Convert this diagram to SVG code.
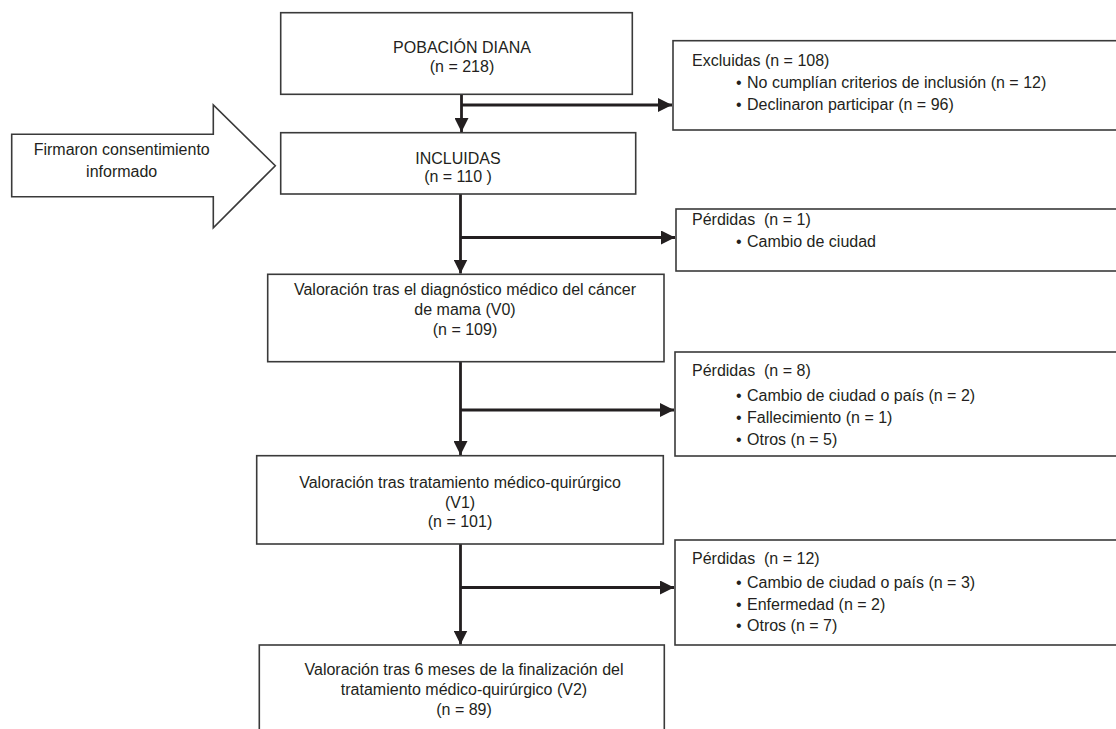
<svg xmlns="http://www.w3.org/2000/svg" width="1116" height="729" viewBox="0 0 1116 729">
<style>
text{font-family:"Liberation Sans",Arial,sans-serif;font-size:16px;fill:#231f20;white-space:pre}
.c{text-anchor:middle}
.box{fill:#fff;stroke:#3a3a3a;stroke-width:1.6}
.ln{fill:none;stroke:#231f20;stroke-width:2.8}
</style>
<defs>
<marker id="ah" viewBox="0 0 14 14" refX="14" refY="7" markerWidth="14" markerHeight="14" markerUnits="userSpaceOnUse" orient="auto">
<path d="M0,0 L14,7 L0,14 Z" fill="#231f20"/>
</marker>
</defs>
<rect width="1116" height="729" fill="#fff"/>
<g id="connectors">
<path class="ln" d="M461.5,94 V132" marker-end="url(#ah)"/>
<path class="ln" d="M461.5,105 H672" marker-end="url(#ah)"/>
<path class="ln" d="M460.5,194 V273.5" marker-end="url(#ah)"/>
<path class="ln" d="M460.5,237.5 H675" marker-end="url(#ah)"/>
<path class="ln" d="M460.5,362 V455" marker-end="url(#ah)"/>
<path class="ln" d="M460.5,410 H674" marker-end="url(#ah)"/>
<path class="ln" d="M460.5,544 V644.5" marker-end="url(#ah)"/>
<path class="ln" d="M460.5,587.5 H674" marker-end="url(#ah)"/>
</g>
<g id="consent">
<polygon class="box" points="11.7,134.3 213.3,134.3 213.3,105 275.3,165.7 213.3,227.7 213.3,196.7 11.7,196.7"/>
<text class="c" x="121.7" y="155">Firmaron consentimiento</text>
<text class="c" x="121.7" y="177">informado</text>
</g>
<g id="poblacion">
<rect class="box" x="280.7" y="12.7" width="351.6" height="81.6"/>
<text class="c" x="462" y="53">POBACIÓN DIANA</text>
<text class="c" x="462" y="72">(n = 218)</text>
</g>
<g id="incluidas">
<rect class="box" x="280.7" y="132.7" width="355" height="61.3"/>
<text class="c" x="458" y="164">INCLUIDAS</text>
<text class="c" x="458" y="182">(n = 110 )</text>
</g>
<g id="v0">
<rect class="box" x="267.7" y="274.3" width="396.3" height="87.4"/>
<text class="c" x="465" y="294.5">Valoración tras el diagnóstico médico del cáncer</text>
<text class="c" x="465" y="314.5">de mama (V0)</text>
<text class="c" x="465" y="334.5">(n = 109)</text>
</g>
<g id="v1">
<rect class="box" x="256.7" y="455.7" width="406.6" height="88.3"/>
<text class="c" x="460" y="488">Valoración tras tratamiento médico-quirúrgico</text>
<text class="c" x="460" y="507.5">(V1)</text>
<text class="c" x="460" y="527">(n = 101)</text>
</g>
<g id="v2">
<rect class="box" x="259.3" y="645" width="405" height="100"/>
<text class="c" x="464" y="674.5">Valoración tras 6 meses de la finalización del</text>
<text class="c" x="464" y="695">tratamiento médico-quirúrgico (V2)</text>
<text class="c" x="464" y="714.5">(n = 89)</text>
</g>
<g id="excluidas">
<rect class="box" x="673" y="40.7" width="450" height="89.3"/>
<text x="692" y="66">Excluidas (n = 108)</text>
<text x="736" y="88">•</text><text x="747" y="88">No cumplían criterios de inclusión (n = 12)</text>
<text x="736" y="110">•</text><text x="747" y="110">Declinaron participar (n = 96)</text>
</g>
<g id="perdidas1">
<rect class="box" x="676" y="209" width="450" height="62"/>
<text x="692" y="225">Pérdidas  (n = 1)</text>
<text x="736" y="247">•</text><text x="747" y="247">Cambio de ciudad</text>
</g>
<g id="perdidas8">
<rect class="box" x="675" y="352" width="450" height="104"/>
<text x="692" y="376">Pérdidas  (n = 8)</text>
<text x="736" y="400.5">•</text><text x="747" y="400.5">Cambio de ciudad o país (n = 2)</text>
<text x="736" y="422.5">•</text><text x="747" y="422.5">Fallecimiento (n = 1)</text>
<text x="736" y="444.5">•</text><text x="747" y="444.5">Otros (n = 5)</text>
</g>
<g id="perdidas12">
<rect class="box" x="675" y="540" width="450" height="105"/>
<text x="692" y="564">Pérdidas  (n = 12)</text>
<text x="736" y="588">•</text><text x="747" y="588">Cambio de ciudad o país (n = 3)</text>
<text x="736" y="609.5">•</text><text x="747" y="609.5">Enfermedad (n = 2)</text>
<text x="736" y="631">•</text><text x="747" y="631">Otros (n = 7)</text>
</g>
</svg>
